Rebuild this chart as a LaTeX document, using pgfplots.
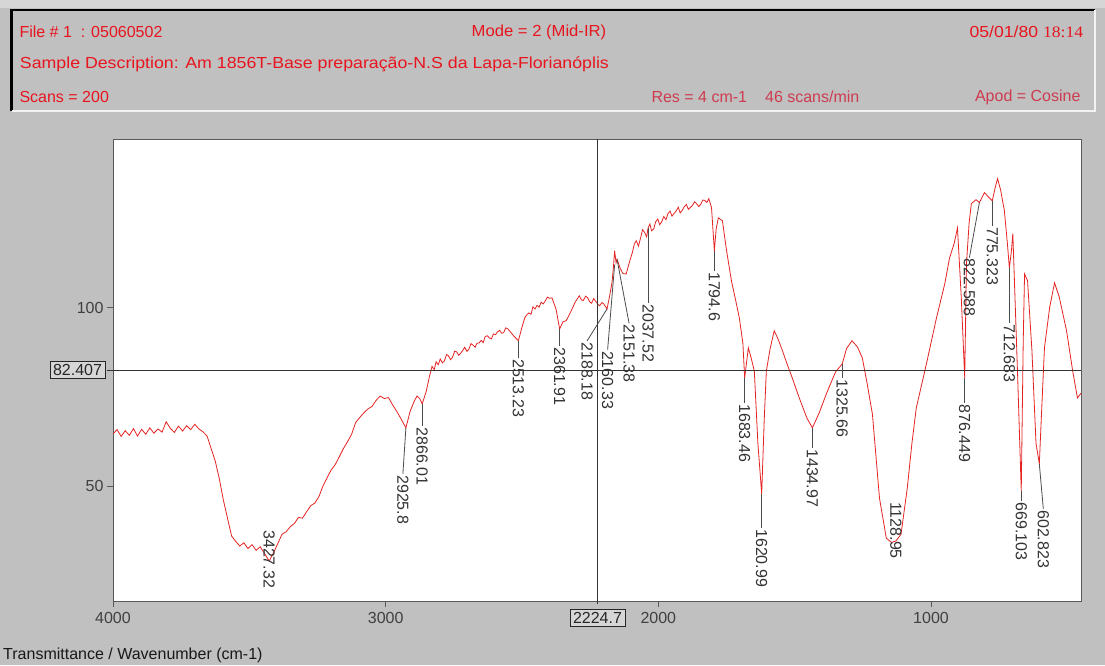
\documentclass[border=0pt]{standalone}
\usepackage{pgfplots}
\pgfplotsset{compat=1.18}
\usepackage{fontspec}
\setmainfont{Liberation Sans}
\newfontfamily\seriffont{Liberation Serif}
\definecolor{bgray}{RGB}{192,192,192}
\definecolor{lgray}{RGB}{214,214,214}
\definecolor{hred}{RGB}{232,20,30}
\definecolor{mred}{RGB}{205,60,80}
\definecolor{spec}{RGB}{230,35,35}
\newcommand{\fs}{\fontsize{16}{19}\selectfont}
% leader line from a peak, then the rotated wavenumber
\newcommand{\lbl}[5]{\draw[black!70,line width=0.8pt] (axis cs:#1,#2) -- ++(#3pt,-#4pt)
  node[rotate=-90,anchor=west,inner sep=1pt,text=black!80,font=\fs]{#5};}

\pgfplotstableread{
wn T
4000 64.6
3985 65.8
3970 63.9
3955 65.5
3940 64.2
3925 66.1
3910 64.0
3895 65.9
3880 64.5
3865 66.3
3850 64.8
3835 66.0
3820 65.1
3805 68.0
3790 66.2
3775 65.0
3760 66.8
3745 65.4
3730 66.9
3715 65.8
3700 67.3
3685 66.0
3670 65.2
3655 64.0
3640 60.5
3625 57.0
3610 52.0
3595 46.0
3580 41.0
3565 36.0
3550 34.5
3535 33.2
3520 34.1
3505 32.5
3490 33.6
3475 32.0
3460 33.0
3445 31.2
3427.32 29.0
3410 31.5
3395 34.0
3380 36.5
3365 37.2
3350 38.6
3335 39.5
3320 41.2
3305 41.0
3290 42.8
3275 44.5
3260 45.2
3245 47.0
3230 50.0
3215 52.3
3200 54.5
3185 56.0
3170 58.2
3155 60.5
3140 62.4
3125 64.5
3110 67.8
3095 69.2
3080 70.5
3065 71.6
3050 72.3
3035 74.0
3020 75.2
3005 74.5
2990 74.8
2975 72.8
2960 71.0
2945 69.0
2925.8 66.3
2910 71.0
2895 73.8
2885 75.2
2875 74.5
2866.01 73.0
2851 76.6
2840 80.5
2830 83.5
2822 82.6
2815 84.8
2807 84.0
2800 85.6
2792 84.5
2785 85.0
2777 86.8
2770 86.5
2762 85.4
2755 86.0
2747 87.8
2740 87.6
2732 86.6
2725 87.2
2717 88.0
2710 88.9
2702 87.7
2695 88.3
2687 89.9
2680 89.5
2672 88.9
2665 90.0
2657 90.1
2650 90.8
2642 90.2
2635 91.9
2627 92.1
2620 91.5
2612 91.2
2605 92.6
2597 92.4
2590 93.2
2582 93.6
2575 92.8
2567 93.0
2560 94.3
2552 94.0
2545 93.4
2530 92.0
2513.23 90.7
2500 94.5
2490 97.1
2482 98.0
2475 98.5
2467 98.1
2460 100.2
2452 99.6
2445 100.6
2437 100.1
2430 101.5
2422 101.0
2415 101.8
2407 102.9
2400 102.6
2390 102.7
2375 99.5
2361.91 94.0
2350 96.0
2338 96.3
2320 99.0
2305 101.5
2290 103.3
2282 102.1
2275 102.0
2267 103.2
2260 102.8
2252 101.6
2245 101.2
2237 102.5
2230 101.8
2222 100.9
2215 100.5
2207 101.4
2200 101.0
2188.18 99.6
2178 103.5
2170 107.0
2165 111.0
2160.33 115.9
2155 112.5
2151.38 113.5
2140 111.0
2130 109.5
2118 109.4
2105 113.0
2095 115.5
2088 117.8
2081 118.7
2073 117.2
2065 119.5
2058 121.8
2050 121.0
2043 119.8
2037.52 122.3
2031 123.4
2025 121.5
2017 122.0
2010 124.0
2002 124.8
1995 123.2
1987 124.1
1980 125.5
1972 124.6
1965 126.3
1957 127.0
1950 125.6
1942 126.4
1935 127.0
1927 128.1
1920 126.5
1912 127.3
1905 128.2
1897 128.9
1890 127.5
1882 128.1
1875 128.6
1867 129.6
1860 129.1
1852 128.3
1845 128.8
1837 130.1
1830 130.0
1822 129.4
1815 130.5
1805 128.0
1794.6 115.9
1788 122.0
1780 125.1
1765 124.3
1750 116.0
1732 107.5
1715 101.5
1703 97.1
1690 90.0
1683.46 80.3
1670 88.7
1660 86.0
1648 82.2
1635 62.0
1620.99 47.8
1612 68.0
1604 82.2
1590 88.5
1575 93.5
1560 91.0
1545 87.9
1527 84.0
1509 80.3
1480 74.0
1455 69.0
1434.97 66.3
1410 70.5
1384 75.8
1350 82.0
1325.66 84.2
1310 88.5
1290 90.7
1270 89.0
1252 85.9
1235 79.0
1215 70.2
1189 46.6
1164 35.4
1145 34.2
1128.95 34.6
1110 36.5
1087 49.5
1070 62.0
1054 71.9
1017 84.2
980 97.1
950 106.5
932 113.9
915 118.0
903 122.3
889 102.7
876.449 80.3
870 112.3
860 124.0
852 129.1
835 130.2
822.588 129.4
804 132.2
790 131.0
775.323 129.9
765 133.5
756 136.1
745 133.0
731 127.1
720 118.0
712.683 111.0
705 116.0
700 120.7
695 109.4
682 80.0
669.103 48.6
662 90.0
657 109.4
646 107.5
630 88.0
615 62.0
602.823 56.2
595 70.0
584 88.7
565 100.0
547 106.9
530 103.0
503 93.5
480 82.0
463 74.7
450 76.0
}\spectrum

\begin{document}
\begin{tikzpicture}
% window background and header panel
\fill[bgray] (0,0) rectangle (1105pt,-665pt);
\fill[lgray] (0,0) rectangle (1105pt,-8pt);
\draw[black,line width=2.5pt] (11.5pt,-111pt) -- (11.5pt,-10pt) -- (1095pt,-10pt);
\draw[white!90!gray,line width=2pt] (11.5pt,-111pt) -- (1095pt,-111pt) -- (1095pt,-10pt);

\node[anchor=west,text=hred,font=\fs] at (16pt,-32pt) {File \# 1 \ : 05060502};
\node[anchor=west,text=hred,font=\fs,xscale=1.04] at (468pt,-32pt) {Mode = 2 (Mid-IR)};
\node[anchor=east,text=hred,font=\fs,xscale=1.1] at (1087pt,-32pt) {05/01/80 {\seriffont 18:14}};
\node[anchor=west,text=hred,font=\fs,xscale=1.11] at (16pt,-64pt) {Sample Description: Am 1856T-Base preparação-N.S da Lapa-Florianóplis};
\node[anchor=west,text=hred,font=\fs] at (16pt,-97pt) {Scans = 200};
\node[anchor=west,text=mred,font=\fs] at (648pt,-97pt) {Res = 4 cm-1\hspace{18pt}46 scans/min};
\node[anchor=east,text=mred,font=\fs] at (1084pt,-97pt) {Apod = Cosine};

\begin{axis}[
    at={(113pt,-139pt)}, anchor=north west,
    width=968pt, height=462pt, scale only axis,
    x dir=reverse,
    xmin=450, xmax=4000,
    ymin=17.8, ymax=147.2,
    xtick={1000,2000,3000,4000},
    ytick={50,100},
    xtick pos=bottom, ytick pos=left,
    tick align=outside,
    major tick length=6pt,
    axis background/.style={fill=white},
    axis line style={black!65,line width=0.9pt},
    tick style={black!65,line width=0.9pt},
    ticklabel style={font=\fs,text=black!75},
    xticklabel style={yshift=-2pt},
    /pgf/number format/assume math mode=true,
    /pgf/number format/1000 sep={},
    clip=false,
]
\addplot[spec,line width=0.8pt] table[x=wn,y=T] {\spectrum};

% cursor cross
\draw[black!80,line width=0.9pt] (axis cs:2224.7,147.2) -- ([yshift=-3pt]axis cs:2224.7,17.8);
\draw[black!80,line width=0.9pt] (axis cs:450,82.407) -- ([xshift=-6pt]axis cs:4000,82.407);

% peak labels
\node[rotate=-90,anchor=west,inner sep=1pt,text=black!80,font=\fs] at ([yshift=32pt]axis cs:3427.32,29) {3427.32};
\lbl{2925.8}{66.3}{-3}{46}{2925.8}
\lbl{2866.01}{73.0}{0}{22}{2866.01}
\lbl{2513.23}{90.7}{0}{17}{2513.23}
\lbl{2361.91}{94.0}{0}{17}{2361.91}
\lbl{2188.18}{99.6}{-20}{32}{2188.18}
\lbl{2160.33}{112.0}{-7}{85}{2160.33}
\lbl{2151.38}{113.5}{12}{64}{2151.38}
\lbl{2037.52}{122.3}{0}{75}{2037.52}
\lbl{1794.6}{115.9}{0}{20}{1794.6}
\lbl{1683.46}{80.3}{0}{25}{1683.46}
\lbl{1620.99}{47.8}{0}{34}{1620.99}
\lbl{1434.97}{66.3}{0}{20}{1434.97}
\lbl{1325.66}{84.2}{0}{14}{1325.66}
\node[rotate=-90,anchor=west,inner sep=1pt,text=black!80,font=\fs] at ([yshift=40pt]axis cs:1128.95,34.6) {1128.95};
\lbl{876.449}{80.3}{0}{25}{876.449}
\lbl{822.588}{129.4}{-10}{55}{822.588}
\lbl{775.323}{129.9}{0}{25}{775.323}
\lbl{712.683}{111.0}{0}{55}{712.683}
\lbl{669.103}{48.6}{0}{10}{669.103}
\lbl{602.823}{56.2}{4}{45}{602.823}
\end{axis}

% cursor value boxes
\node[draw=black!85,fill=lgray,line width=0.9pt,inner sep=3pt,font=\fs,text=black!85] at (77.5pt,-370pt) {82.407};
\node[draw=black!85,fill=lgray,line width=0.9pt,inner sep=3pt,font=\fs,text=black!85] at (597.5pt,-618pt) {2224.7};

\node[anchor=west,font=\fs,text=black!90,inner sep=0pt] at (3pt,-655pt) {Transmittance / Wavenumber (cm-1)};
\end{tikzpicture}
\end{document}
